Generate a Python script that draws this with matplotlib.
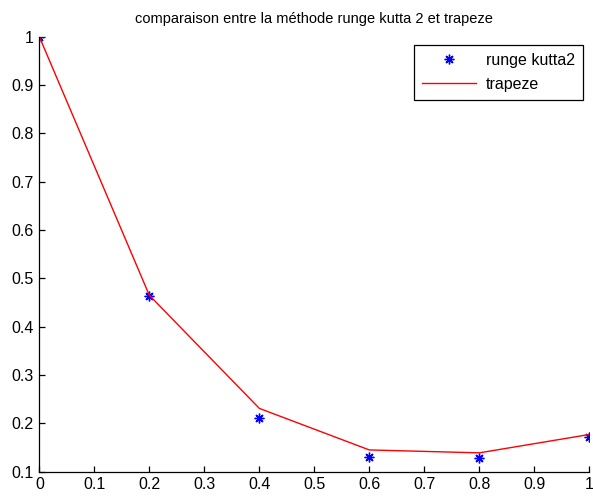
import numpy as np
import matplotlib
matplotlib.use('Agg')
import matplotlib.pyplot as plt

plt.rc('font', family=['Liberation Sans', 'DejaVu Sans'], size=11.5)

# data
x = [0, 0.2, 0.4, 0.6, 0.8, 1.0]
rk2 = [1.0, 0.464, 0.212, 0.130, 0.128, 0.172]
trapeze = [1.0, 0.465, 0.231, 0.145, 0.139, 0.177]

xticks = [0, 0.1, 0.2, 0.3, 0.4, 0.5, 0.6, 0.7, 0.8, 0.9, 1]
yticks = [0.1, 0.2, 0.3, 0.4, 0.5, 0.6, 0.7, 0.8, 0.9, 1]

fig = plt.figure(figsize=(5.93, 4.96), dpi=100)
ax = fig.add_axes([0.0663, 0.049, 0.9275, 0.877])

ax.plot(x, rk2, linestyle='none', marker=(8, 2, 0), markersize=7,
        markeredgewidth=1.0, color='blue', label='runge kutta2')
ax.plot(x, trapeze, color='red', linewidth=1.0, label='trapeze')

ax.set_xlim(0, 1)
ax.set_ylim(0.1, 1)
ax.set_xticks(xticks)
ax.set_xticklabels(['0', '0.1', '0.2', '0.3', '0.4', '0.5', '0.6', '0.7', '0.8', '0.9', '1'])
ax.set_yticks(yticks)
ax.set_yticklabels(['0.1', '0.2', '0.3', '0.4', '0.5', '0.6', '0.7', '0.8', '0.9', '1'])
ax.tick_params(direction='in', length=4, width=0.9, pad=4, labelsize=11.5)
ax.spines['top'].set_visible(False)
ax.spines['right'].set_visible(False)
for s in ['left', 'bottom']:
    ax.spines[s].set_linewidth(0.9)

ax.set_title('comparaison entre la méthode runge kutta 2 et trapeze', fontsize=10.5, pad=9.8)

leg = ax.legend(loc='upper right', bbox_to_anchor=(0.9885, 0.981), borderaxespad=0,
                fancybox=False, edgecolor='black', framealpha=1, handlelength=3.4,
                fontsize=11.5, borderpad=0.5, labelspacing=0.55, handletextpad=0.6)
leg.get_frame().set_linewidth(0.9)

plt.savefig('out.png', dpi=100)
